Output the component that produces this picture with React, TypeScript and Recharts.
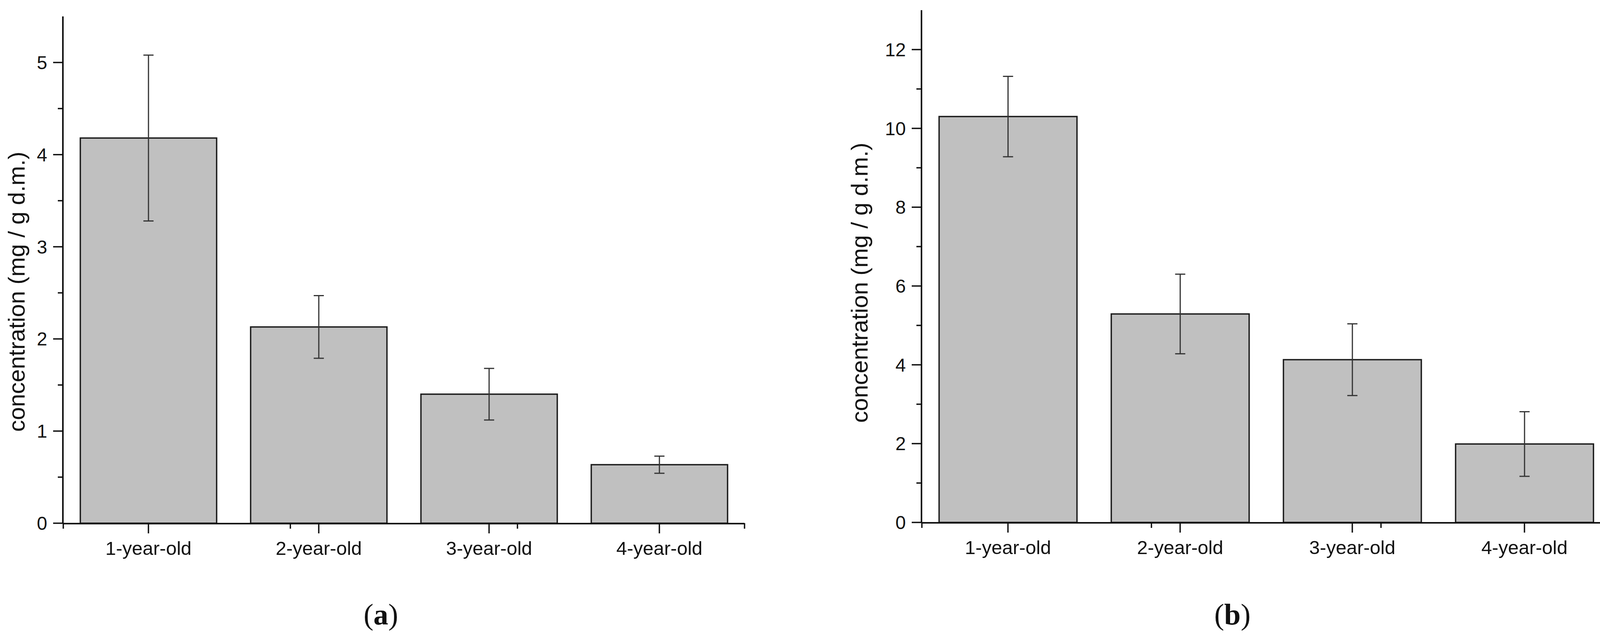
import React from "react";
import { BarChart, Bar, XAxis, YAxis, ErrorBar } from "recharts";

// categories and read-off values (mean ± error)
const categories = ["1-year-old", "2-year-old", "3-year-old", "4-year-old"];
const meanA = [4.18, 2.13, 1.4, 0.635];
const errA = [0.9, 0.34, 0.28, 0.093];
const meanB = [10.3, 5.29, 4.13, 1.99];
const errB = [1.02, 1.01, 0.91, 0.82];

const ticksA = [0, 1, 2, 3, 4, 5];
const minorTicksA = [0.5, 1.5, 2.5, 3.5, 4.5];
const ticksB = [0, 2, 4, 6, 8, 10, 12];
const minorTicksB = [1, 3, 5, 7, 9, 11];
const edgeTicks = [0, 1, 2, 3, 4];

const domainA = [0, 5.5];
const domainB = [0, 13];
const edgeDomain = [0, 4];

const yTitle = "concentration (mg / g d.m.)";

const dataA = categories.map((c, i) => ({ name: c, value: meanA[i], err: errA[i] }));
const dataB = categories.map((c, i) => ({ name: c, value: meanB[i], err: errB[i] }));

const FONT = "'Liberation Sans', Arial, sans-serif";
const INK = "#111";
const tickStyle = { fontSize: 49, fill: INK, fontFamily: FONT };
const yTickStyle = { fontSize: 48, fill: INK, fontFamily: FONT };
const lineStyle = { stroke: INK, strokeWidth: 4 };
const tickLineStyle = { stroke: INK, strokeWidth: 3.5 };
const noLabel = () => <g />;

// helper axes must sit next to the plot, so their ids sort first ("a-...")
const CAT = "b-cat";
const EDGE = "a-edge";
const MAIN = "b-main";
const MINOR = "a-minor";

function YTitle({ viewBox, cx, dy }: any) {
  const x = viewBox.x + cx;
  const y = viewBox.y + viewBox.height / 2 + dy;
  return (
    <text
      x={x}
      y={y}
      transform={`rotate(-90 ${x} ${y})`}
      textAnchor="middle"
      dominantBaseline="central"
      fontSize={60}
      fontFamily={FONT}
      fill={INK}
    >
      {yTitle}
    </text>
  );
}

function Panel({ data, domain, ticks, minor, margin, yWidth, titleX, titleDy }: any) {
  const renderTitle = React.useCallback(
    (p: any) => <YTitle {...p} cx={titleX} dy={titleDy} />,
    [titleX, titleDy]
  );
  return (
    <BarChart width={2077} height={1643} data={data} margin={margin} barCategoryGap="10%">
      <XAxis
        xAxisId={CAT}
        dataKey="name"
        height={99}
        tickSize={25}
        tickMargin={20}
        interval={0}
        tick={tickStyle}
        axisLine={lineStyle}
        tickLine={tickLineStyle}
      />
      {/* short ticks at category edges (1px tall axis right under the plot) */}
      <XAxis
        xAxisId={EDGE}
        type="number"
        domain={edgeDomain}
        ticks={edgeTicks}
        allowDataOverflow
        height={1}
        tick={noLabel}
        axisLine={false}
        tickSize={14}
        tickLine={tickLineStyle}
      />
      <YAxis
        yAxisId={MAIN}
        type="number"
        domain={domain}
        ticks={ticks}
        allowDataOverflow
        width={yWidth - 1}
        tickSize={25}
        tickMargin={15}
        tick={yTickStyle}
        axisLine={lineStyle}
        tickLine={tickLineStyle}
        label={renderTitle}
      />
      {/* minor y ticks */}
      <YAxis
        yAxisId={MINOR}
        type="number"
        domain={domain}
        ticks={minor}
        allowDataOverflow
        width={1}
        tick={noLabel}
        axisLine={false}
        tickSize={14}
        tickLine={tickLineStyle}
      />
      <Bar
        xAxisId={CAT}
        yAxisId={MAIN}
        dataKey="value"
        fill="#c0c0c0"
        stroke="#1c1c1c"
        strokeWidth={3.5}
        isAnimationActive={false}
      >
        <ErrorBar
          dataKey="err"
          direction="y"
          width={13}
          stroke="#333"
          strokeWidth={3}
          isAnimationActive={false}
        />
      </Bar>
    </BarChart>
  );
}

const captionStyle: React.CSSProperties = {
  position: "absolute",
  top: 1534,
  transform: "translateX(-50%)",
  fontFamily: "'Liberation Serif', 'Times New Roman', serif",
  fontSize: 76,
  lineHeight: 1,
  color: INK,
};

const marginA = { top: 42, right: 171, left: 0, bottom: 204 };
const marginB = { top: 26, right: 31, left: 0, bottom: 206 };

export default function App() {
  return (
    <div style={{ position: "absolute", left: 0, top: 0, width: 4154, height: 1643, background: "#fff" }}>
      <div style={{ position: "absolute", left: 0, top: 0 }}>
        <Panel
          data={dataA}
          domain={domainA}
          ticks={ticksA}
          minor={minorTicksA}
          margin={marginA}
          yWidth={162}
          titleX={42}
          titleDy={56}
        />
      </div>
      <div style={{ position: "absolute", left: 2077, top: 0 }}>
        <Panel
          data={dataB}
          domain={domainB}
          ticks={ticksB}
          minor={minorTicksB}
          margin={marginB}
          yWidth={283}
          titleX={123}
          titleDy={42}
        />
      </div>
      <div style={{ ...captionStyle, left: 975 }}>
        (<b>a</b>)
      </div>
      <div style={{ ...captionStyle, left: 3155 }}>
        (<b>b</b>)
      </div>
    </div>
  );
}
